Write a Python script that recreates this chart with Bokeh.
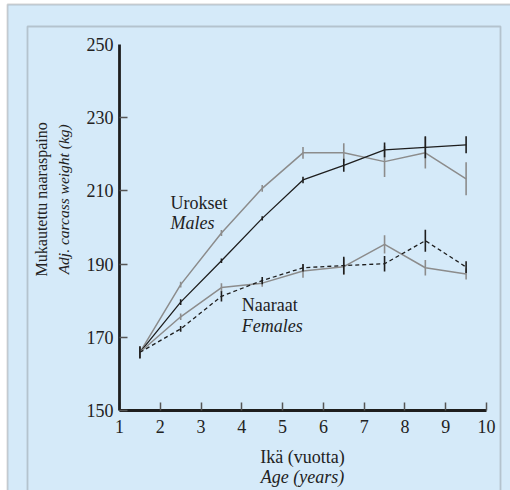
import numpy as np
from bokeh.plotting import figure
from bokeh.models import Range1d, FixedTicker, Label, BoxAnnotation, LinearAxis
from bokeh.embed import file_html
from bokeh.resources import INLINE

ages = [1.5, 2.5, 3.5, 4.5, 5.5, 6.5, 7.5, 8.5, 9.5]
males_gray = [165.9, 184.4, 198.5, 210.7, 220.4, 220.4, 218.0, 220.4, 213.3]
males_gray_err = [1.6, 0.8, 0.8, 0.9, 1.6, 2.6, 4.2, 4.3, 4.5]
males_black = [165.9, 179.6, 190.9, 202.5, 213.0, 217.0, 221.2, 221.9, 222.6]
males_black_err = [1.6, 0.8, 0.6, 0.6, 0.9, 1.8, 2.0, 3.0, 2.3]
females_gray = [165.9, 175.6, 183.6, 184.8, 188.1, 189.3, 195.4, 189.0, 187.3]
females_gray_err = [1.6, 0.9, 1.2, 1.0, 1.8, 2.3, 2.5, 2.1, 1.5]
females_dash = [165.9, 172.3, 181.2, 185.5, 189.0, 189.6, 190.1, 196.4, 189.2]
females_dash_err = [1.6, 0.8, 1.4, 1.0, 1.0, 2.4, 2.1, 3.0, 1.6]

x_ticks = [1, 2, 3, 4, 5, 6, 7, 8, 9, 10]
y_ticks = [150, 170, 190, 210, 230]
y_top_tick = [250]

BG = "#d5eaf9"
GRAY = "#8c8c8c"
DARK = "#1e1e1e"
FONT = "Liberation Serif"

W, H = 510, 490
X_LEFT, X_RIGHT = 119, 486
Y_TOP, Y_BOT = 44, 410
sx = (X_RIGHT - X_LEFT) / 9.0
sy = (Y_BOT - Y_TOP) / 100.0

p = figure(width=W, height=H, output_backend="svg", toolbar_location=None,
           x_range=Range1d(1 - X_LEFT / sx, 10 + (W - X_RIGHT) / sx),
           y_range=Range1d(150 - (H - Y_BOT) / sy, 250 + Y_TOP / sy),
           min_border=0)
p.background_fill_color = "white"
p.border_fill_color = "white"
p.outline_line_color = None
p.grid.visible = False

p.add_layout(BoxAnnotation(left=7, right=W + 20, top=4, bottom=H + 20,
                           left_units="canvas", right_units="canvas", top_units="canvas", bottom_units="canvas",
                           fill_color=BG, fill_alpha=1, line_color="#6b6b6b", line_width=1.8, level="underlay"))
p.add_layout(BoxAnnotation(left=27, right=500, top=26, bottom=H + 20,
                           left_units="canvas", right_units="canvas", top_units="canvas", bottom_units="canvas",
                           fill_color=None, line_color="#6b6b6b", line_width=1.8, level="underlay"))

top_axis = LinearAxis(ticker=FixedTicker(ticks=y_top_tick), fixed_location=1,
                      axis_line_color=None, major_tick_in=0, major_tick_out=0,
                      minor_tick_line_color=None, major_label_standoff=6,
                      major_label_text_font=FONT, major_label_text_font_size="18px",
                      major_label_text_color="#222222")
p.add_layout(top_axis, "left")

p.xaxis.fixed_location = 150
p.yaxis.fixed_location = 1
p.xaxis.bounds = (1, 10)
p.yaxis.bounds = (150, 250)
for ax in (p.xaxis[0], p.yaxis[0]):
    ax.axis_line_width = 2.8
    ax.axis_line_color = DARK
    ax.major_tick_in = 8
    ax.major_tick_out = 0
    ax.major_tick_line_color = "#555555"
    ax.major_tick_line_width = 1.5
    ax.minor_tick_line_color = None
    ax.major_label_text_font = FONT
    ax.major_label_text_font_size = "18px"
    ax.major_label_text_color = "#222222"
p.xaxis[0].ticker = FixedTicker(ticks=x_ticks)
p.yaxis[0].ticker = FixedTicker(ticks=y_ticks)
p.xaxis[0].major_label_standoff = 9
p.yaxis[0].major_label_standoff = 6

series = [
    (males_gray, males_gray_err, GRAY, "solid", 1.5),
    (males_black, males_black_err, DARK, "solid", 1.3),
    (females_gray, females_gray_err, GRAY, "solid", 1.5),
    (females_dash, females_dash_err, DARK, "4 3", 1.3),
]
for vals, errs, col, dash, lw in series:
    v = np.array(vals)
    e = np.array(errs)
    p.line(ages, vals, line_color=col, line_width=lw, line_dash=dash)
    p.segment(x0=ages, x1=ages, y0=v - e, y1=v + e, line_color=col, line_width=1.6)

def lab(x, y, t, style="normal", angle=0, align="left", size="18px"):
    p.add_layout(Label(x=x, y=y, text=t, text_font=FONT, text_font_size=size,
                       text_font_style=style, text_color="#222222", angle=angle,
                       text_align=align, text_baseline="middle"))

lab(2.25, 206.6, "Urokset")
lab(2.25, 201.1, "Males", "italic")
lab(4.0, 178.7, "Naaraat")
lab(4.0, 173.2, "Females", "italic")
lab(-0.91, 207.7, "Mukautettu naaraspaino", angle=np.pi / 2, align="center", size="16px")
lab(-0.38, 207.7, "Adj. carcass weight (kg)", "italic", angle=np.pi / 2, align="center", size="15.5px")
lab(5.49, 137.2, "Ikä (vuotta)", align="center")
lab(5.49, 131.7, "Age (years)", "italic", align="center")

open("out.html", "w").write(file_html(p, INLINE))
